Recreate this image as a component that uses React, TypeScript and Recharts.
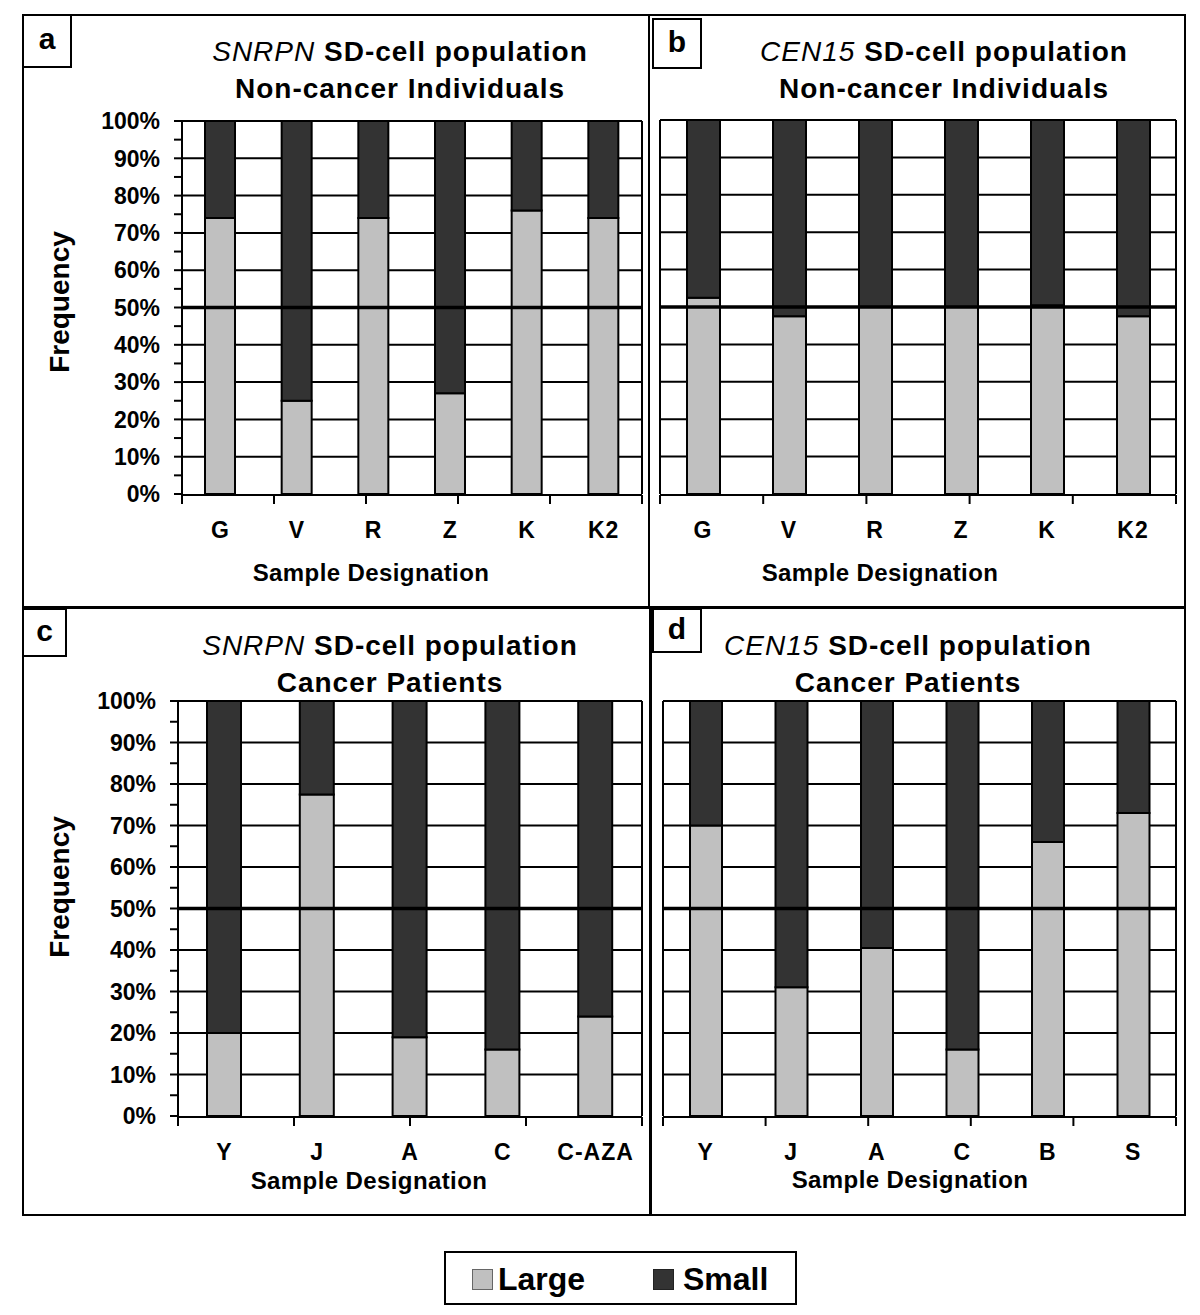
import React from "react";
import {
  BarChart,
  Bar,
  XAxis,
  YAxis,
  CartesianGrid,
  ReferenceLine,
} from "recharts";

// panel a: SNRPN, non-cancer
const catsA = ["G", "V", "R", "Z", "K", "K2"];
const largeA = [74, 25, 74, 27, 76, 74];
const smallA = [26, 75, 26, 73, 24, 26];

// panel b: CEN15, non-cancer
const catsB = ["G", "V", "R", "Z", "K", "K2"];
const largeB = [52.5, 47.5, 50, 50, 50.5, 47.5];
const smallB = [47.5, 52.5, 50, 50, 49.5, 52.5];

// panel c: SNRPN, cancer
const catsC = ["Y", "J", "A", "C", "C-AZA"];
const largeC = [20, 77.5, 19, 16, 24];
const smallC = [80, 22.5, 81, 84, 76];

// panel d: CEN15, cancer
const catsD = ["Y", "J", "A", "C", "B", "S"];
const largeD = [70, 31, 40.5, 16, 66, 73];
const smallD = [30, 69, 59.5, 84, 34, 27];

const yTicks = [0, 5, 10, 15, 20, 25, 30, 35, 40, 45, 50, 55, 60, 65, 70, 75, 80, 85, 90, 95, 100];
const gridLines = [10, 20, 30, 40, 50, 60, 70, 80, 90, 100];

const LARGE = "#c0c0c0";
const SMALL = "#333333";

const sans = '"Liberation Sans", Arial, sans-serif';

const EmptyTick = () => <g />;

const YTick = (props: any) => {
  const { x, y, payload } = props;
  if (payload.value % 10 !== 0) return <g />;
  return (
    <text
      x={x}
      y={y}
      dy="0.36em"
      textAnchor="end"
      fontFamily={sans}
      fontWeight="bold"
      fontSize={23}
      fill="#000"
    >
      {payload.value}%
    </text>
  );
};

const XTick = (props: any) => {
  const { x, y, payload } = props;
  return (
    <text
      x={x}
      y={y + 44}
      textAnchor="middle"
      fontFamily={sans}
      fontWeight="bold"
      fontSize={23}
      letterSpacing={1}
      fill="#000"
    >
      {payload.value}
    </text>
  );
};

interface PanelProps {
  cats: string[];
  large: number[];
  small: number[];
  left: number;
  top: number;
  width: number;
  plotLeft: number;
  plotRight: number;
  plotTop: number;
  plotBottom: number;
  barSize: number;
  showYTicks: boolean;
}

function Panel({ cats, large, small, left, top, width, plotLeft, plotRight, plotTop, plotBottom, barSize, showYTicks }: PanelProps) {
  const data = cats.map((c, i) => ({ name: c, large: large[i], small: small[i] }));
  const edges = cats.map((_, i) => i).concat([cats.length]);
  const bottomPad = 70;
  return (
    <div style={{ position: "absolute", left, top }}>
      <BarChart
        width={width}
        height={plotBottom - top + bottomPad}
        data={data}
        margin={{ top: plotTop - top, right: left + width - plotRight - 1, bottom: bottomPad - 2, left: 0 }}
        barSize={barSize}
      >
        <CartesianGrid
          vertical={false}
          horizontalValues={gridLines}
          stroke="#000"
          strokeWidth={2}
        />
        <XAxis
          xAxisId="edges"
          type="number"
          domain={[0, cats.length]}
          ticks={edges}
          interval={0}
          allowDataOverflow
          height={1}
          tick={<EmptyTick />}
          tickSize={9}
          tickLine={{ stroke: "#000", strokeWidth: 2 }}
          axisLine={{ stroke: "#000", strokeWidth: 2 }}
        />
        <XAxis
          dataKey="name"
          height={1}
          axisLine={false}
          tickLine={false}
          tickSize={0}
          tickMargin={0}
          interval={0}
          tick={<XTick />}
        />
        <YAxis
          domain={[0, 100]}
          ticks={yTicks}
          interval={0}
          width={plotLeft - left}
          tick={showYTicks ? <YTick /> : <EmptyTick />}
          tickSize={8}
          tickMargin={14}
          tickLine={showYTicks ? { stroke: "#000", strokeWidth: 2 } : false}
          axisLine={{ stroke: "#000", strokeWidth: 2 }}
        />
        <YAxis
          yAxisId="right"
          orientation="right"
          domain={[0, 100]}
          width={1}
          tick={<EmptyTick />}
          tickLine={false}
          axisLine={{ stroke: "#000", strokeWidth: 2 }}
        />
        <Bar dataKey="large" stackId="s" fill={LARGE} stroke="#000" strokeWidth={2} isAnimationActive={false} />
        <Bar dataKey="small" stackId="s" fill={SMALL} stroke="#000" strokeWidth={2} isAnimationActive={false} />
        <ReferenceLine y={50} stroke="#000" strokeWidth={3.5} />
      </BarChart>
    </div>
  );
}

const titleStyle: React.CSSProperties = {
  position: "absolute",
  transform: "translate(-50%, -50%)",
  whiteSpace: "nowrap",
  fontFamily: sans,
  fontWeight: "bold",
  fontSize: 28,
  letterSpacing: 1,
  color: "#000",
  lineHeight: 1,
};

function Title({ x, y, gene, line2 }: { x: number; y: number; gene: string; line2: string }) {
  return (
    <>
      <div style={{ ...titleStyle, left: x, top: y }}>
        <i style={{ fontWeight: "normal" }}>{gene}</i> SD-cell population
      </div>
      <div style={{ ...titleStyle, left: x, top: y + 37 }}>{line2}</div>
    </>
  );
}

function AxisTitle({ x, y }: { x: number; y: number }) {
  return (
    <div style={{ ...titleStyle, left: x, top: y, fontSize: 24, letterSpacing: 0.4 }}>
      Sample Designation
    </div>
  );
}

function Freq({ x, y }: { x: number; y: number }) {
  return (
    <div
      style={{
        position: "absolute",
        left: x,
        top: y,
        transform: "translate(-50%, -50%) rotate(-90deg)",
        fontFamily: sans,
        fontWeight: "bold",
        fontSize: 28,
        whiteSpace: "nowrap",
        lineHeight: 1,
      }}
    >
      Frequency
    </div>
  );
}

function Tag({ x, y, w, h, text }: { x: number; y: number; w: number; h: number; text: string }) {
  return (
    <div
      style={{
        position: "absolute",
        left: x,
        top: y,
        width: w,
        height: h,
        boxSizing: "border-box",
        border: "2px solid #000",
        background: "#fff",
        fontFamily: sans,
        fontWeight: "bold",
        fontSize: 30,
        display: "flex",
        alignItems: "center",
        justifyContent: "center",
        paddingBottom: 4,
      }}
    >
      {text}
    </div>
  );
}

function Line({ x, y, w, h }: { x: number; y: number; w: number; h: number }) {
  return <div style={{ position: "absolute", left: x, top: y, width: w, height: h, background: "#000" }} />;
}

export default function App() {
  return (
    <div style={{ position: "absolute", left: 0, top: 0, width: 1200, height: 1315, background: "#fff", overflow: "hidden" }}>
      {/* frame */}
      <Line x={22} y={14} w={1164} h={2} />
      <Line x={22} y={1214} w={1164} h={2} />
      <Line x={22} y={14} w={2} h={1202} />
      <Line x={1184} y={14} w={2} h={1202} />
      <Line x={648} y={14} w={2} h={594} />
      <Line x={649} y={606} w={3} h={610} />
      <Line x={22} y={606} w={1164} h={3} />

      <Panel cats={catsA} large={largeA} small={smallA} left={23} top={100} width={626}
        plotLeft={182} plotRight={642} plotTop={121} plotBottom={494} barSize={30} showYTicks />
      <Panel cats={catsB} large={largeB} small={smallB} left={650} top={100} width={535}
        plotLeft={660} plotRight={1176} plotTop={120} plotBottom={494} barSize={33} showYTicks={false} />
      <Panel cats={catsC} large={largeC} small={smallC} left={23} top={680} width={626}
        plotLeft={178} plotRight={642} plotTop={701} plotBottom={1116} barSize={34} showYTicks />
      <Panel cats={catsD} large={largeD} small={smallD} left={652} top={680} width={533}
        plotLeft={663} plotRight={1176} plotTop={701} plotBottom={1116} barSize={32} showYTicks={false} />

      <Tag x={22} y={14} w={50} h={54} text="a" />
      <Tag x={652} y={18} w={50} h={51} text="b" />
      <Tag x={22} y={608} w={45} h={49} text="c" />
      <Tag x={652} y={608} w={50} h={45} text="d" />

      <Title x={400} y={52} gene="SNRPN" line2="Non-cancer Individuals" />
      <Title x={944} y={52} gene="CEN15" line2="Non-cancer Individuals" />
      <Title x={390} y={646} gene="SNRPN" line2="Cancer Patients" />
      <Title x={908} y={646} gene="CEN15" line2="Cancer Patients" />

      <AxisTitle x={371} y={573} />
      <AxisTitle x={880} y={573} />
      <AxisTitle x={369} y={1181} />
      <AxisTitle x={910} y={1180} />

      <Freq x={60} y={302} />
      <Freq x={60} y={887} />

      {/* legend */}
      <div
        style={{
          position: "absolute",
          left: 444,
          top: 1251,
          width: 353,
          height: 54,
          boxSizing: "border-box",
          border: "2px solid #000",
          fontFamily: sans,
          fontWeight: "bold",
          fontSize: 32,
        }}
      >
        <div style={{ position: "absolute", left: 26, top: 16, width: 21, height: 21, boxSizing: "border-box", background: LARGE, border: "1px solid #666" }} />
        <div style={{ position: "absolute", left: 52, top: 8, lineHeight: "36px" }}>Large</div>
        <div style={{ position: "absolute", left: 207, top: 16, width: 21, height: 21, boxSizing: "border-box", background: SMALL, border: "1px solid #222" }} />
        <div style={{ position: "absolute", left: 237, top: 8, lineHeight: "36px" }}>Small</div>
      </div>
    </div>
  );
}
